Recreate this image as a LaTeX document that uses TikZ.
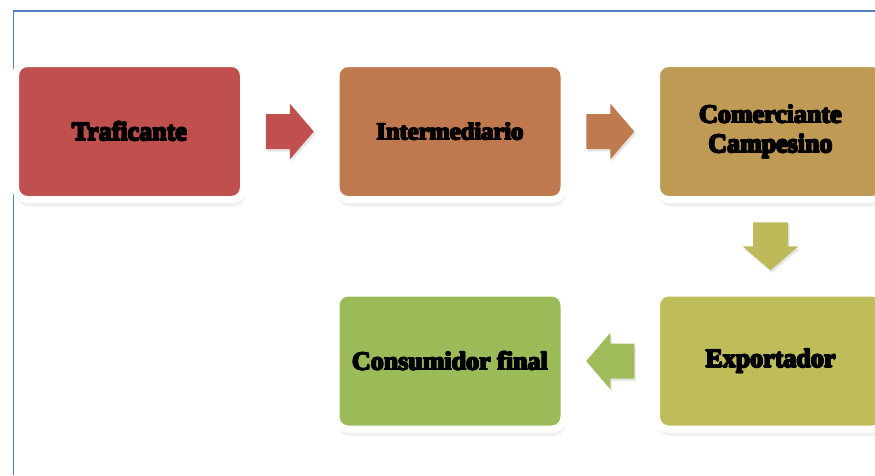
\documentclass[tikz,border=0pt]{standalone}
\usepackage{fontspec}
\setmainfont{Liberation Serif}
\usetikzlibrary{shadows,calc}
\definecolor{rojo}{HTML}{C0504D}
\definecolor{cobre}{HTML}{C0784F}
\definecolor{ocre}{HTML}{BE9A55}
\definecolor{oliva}{HTML}{BEBD5A}
\definecolor{verde}{HTML}{9BBB59}
\definecolor{marco}{HTML}{4F81BD}
% texto muy grueso: varias copias desplazadas
\newcommand\capa[3]{\rlap{\kern#1\raisebox{#2}{#3}}}
\newcommand\grueso[1]{\leavevmode\capa{-0.8pt}{0pt}{#1}\capa{0.8pt}{0pt}{#1}%
	\capa{0pt}{0.8pt}{#1}\capa{0pt}{-0.8pt}{#1}\capa{0.6pt}{0.6pt}{#1}%
	\capa{-0.6pt}{0.6pt}{#1}\capa{0.6pt}{-0.6pt}{#1}\capa{-0.6pt}{-0.6pt}{#1}#1}

\begin{document}
\begin{tikzpicture}[x=1pt,y=-1pt,
		etapa/.style={rectangle, rounded corners=12pt, draw=white, line width=7pt,
			minimum width=228pt, minimum height=136pt, align=center,
			font=\bfseries\fontsize{26}{29.5}\selectfont,
			drop shadow={shadow xshift=1.5pt, shadow yshift=-7pt, opacity=0.12}},
		flecha/.pic={\fill[pic actions, drop shadow={shadow xshift=1.5pt, shadow yshift=-2.5pt, opacity=0.2}]
			(-24,-17.5) -- (0,-17.5) -- (0,-28) -- (24,0) -- (0,28) -- (0,17.5) -- (-24,17.5) -- cycle;}]
			\useasboundingbox (0,0) rectangle (875,475);
			\clip (0,0) rectangle (875,475);
			\draw[color=marco, line width=1.2pt] (13.5,475) -- (13.5,11) -- (875,11);
			% etapas
			\node[etapa, fill=rojo] (traf) at (129.5,131.5) {\grueso{Traficante}};
			\node[etapa, fill=cobre, font=\bfseries\fontsize{24.5}{29}\selectfont] (inter) at (450,131.5) {\grueso{Intermediario}};
			\node[etapa, fill=ocre] (comer) at (770.5,131.5) {\grueso{Comerciante}\\\grueso{Campesino}};
			\node[etapa, fill=oliva] (expo) at (770.5,361) {\grueso{Exportador}};
			\node[etapa, fill=verde] (cons) at (450,361) {\grueso{Consumidor final}};
			% flechas
			\coordinate (m1) at ($(traf.east)!0.5!(inter.west)$);
			\coordinate (m2) at ($(inter.east)!0.5!(comer.west)$);
			\coordinate (m3) at ($(comer.south)!0.5!(expo.north)$);
			\coordinate (m4) at ($(expo.west)!0.5!(cons.east)$);
			\pic[fill=rojo] at (m1) {flecha};
			\pic[fill=cobre!95!ocre] at (m2) {flecha};
			\pic[fill=oliva!90!ocre, rotate=-90] at (m3) {flecha};
			\pic[fill=verde!85!oliva, xscale=-1] at (m4) {flecha};
		\end{tikzpicture}
\end{document}
